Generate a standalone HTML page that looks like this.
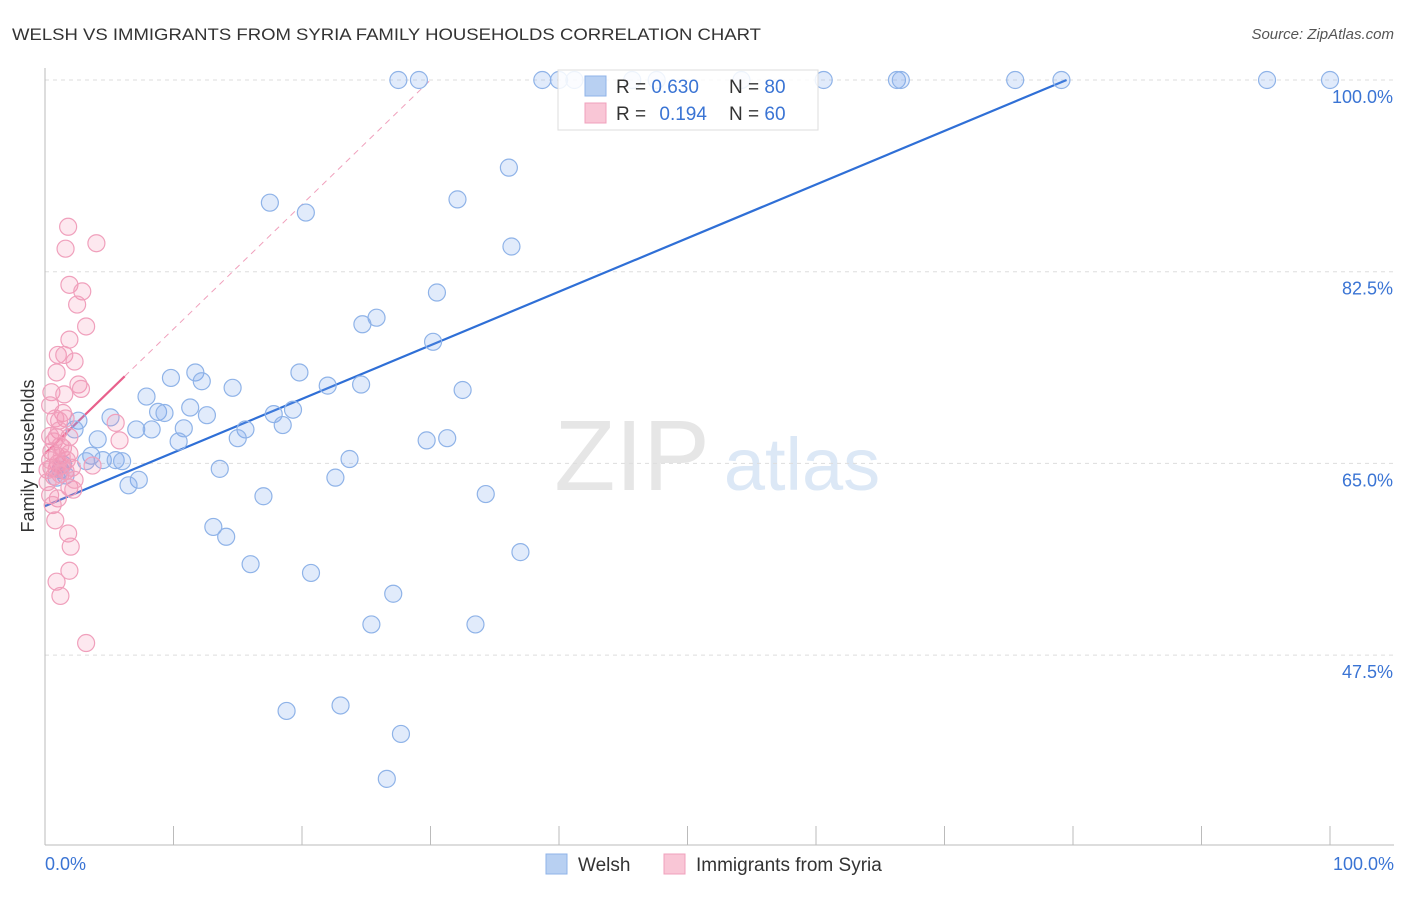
<!DOCTYPE html>
<html><head><meta charset="utf-8"><style>
body{margin:0;background:#fff;font-family:"Liberation Sans",sans-serif;}
svg text{font-family:"Liberation Sans",sans-serif;}
</style></head><body>
<svg id="chart" width="1406" height="892">
<text x="12" y="40" font-size="17" fill="#333" textLength="749" lengthAdjust="spacingAndGlyphs">WELSH VS IMMIGRANTS FROM SYRIA FAMILY HOUSEHOLDS CORRELATION CHART</text>
<text x="1394" y="39" font-size="15" fill="#555" text-anchor="end" font-style="italic">Source: ZipAtlas.com</text>
<text x="34" y="456" font-size="18" fill="#333" text-anchor="middle" transform="rotate(-90 34 456)">Family Households</text>
<g><text x="632" y="490" font-size="100" fill="#e6e6e6" text-anchor="middle" font-family="Liberation Serif,serif">ZIP</text><text x="802" y="490" font-size="74" fill="#dce8f6" text-anchor="middle">atlas</text></g>
<g id="grid"></g><g id="axes"></g><g id="lines"></g><g id="pts"></g>
<g>
<rect x="558" y="70" width="260" height="60" fill="#fff" fill-opacity="0.85" stroke="#ddd"/>
<rect x="585" y="76" width="21" height="20" fill="#b8d0f2" stroke="#8fb3e8"/>
<rect x="585" y="103" width="21" height="20" fill="#f9c6d6" stroke="#f0a0bc"/>
<text x="616" y="93" font-size="19" fill="#333">R = <tspan fill="#3a74d4">0.630</tspan></text>
<text x="729" y="93" font-size="19" fill="#333">N = <tspan fill="#3a74d4">80</tspan></text>
<text x="616" y="120" font-size="19" fill="#333">R = <tspan fill="#3a74d4" dx="8">0.194</tspan></text>
<text x="729" y="120" font-size="19" fill="#333">N = <tspan fill="#3a74d4">60</tspan></text>
</g>
<g>
<rect x="546" y="854" width="21" height="20" fill="#b8d0f2" stroke="#8fb3e8"/>
<text x="578" y="871" font-size="19" fill="#333">Welsh</text>
<rect x="664" y="854" width="21" height="20" fill="#f9c6d6" stroke="#f0a0bc"/>
<text x="696" y="871" font-size="19" fill="#333">Immigrants from Syria</text>
</g>
</svg>
<script>
const yTicks=[100,82.5,65,47.5];
const yTickLabels=["100.0%","82.5%","65.0%","47.5%"];
const xEndLabels=["0.0%","100.0%"];
const welshX=[27.5,29.1,38.7,40.0,41.2,45.7,47.6,54.2,60.6,66.3,66.6,75.5,79.1,95.1,100,36.1,17.5,20.3,32.1,36.3,30.5,25.8,24.7,30.2,19.8,11.7,9.8,12.2,14.6,22.0,24.6,32.5,7.9,11.3,8.8,9.3,19.3,17.8,12.6,5.1,2.6,2.3,7.1,8.3,15.6,18.5,10.8,15.0,4.1,10.4,29.7,31.3,3.6,3.2,4.5,5.5,6.0,23.7,13.6,1.2,0.9,7.3,6.5,22.6,17.0,34.3,13.1,14.1,37.0,16.0,20.7,27.1,25.4,33.5,23.0,18.8,27.7,26.6,1.4,1.6];
const welshY=[100,100,100,100,100,100,100,100,100,100,100,100,100,100,100,92.0,88.8,87.9,89.1,84.8,80.6,78.3,77.7,76.1,73.3,73.3,72.8,72.5,71.9,72.1,72.2,71.7,71.1,70.1,69.7,69.6,69.9,69.5,69.4,69.2,68.9,68.1,68.1,68.1,68.1,68.5,68.2,67.3,67.2,67.0,67.1,67.3,65.7,65.2,65.3,65.3,65.2,65.4,64.5,64.4,63.7,63.5,63.0,63.7,62.0,62.2,59.2,58.3,56.9,55.8,55.0,53.1,50.3,50.3,42.9,42.4,40.3,36.2,64.9,63.9];
const syriaX=[1.8,4.0,1.6,1.9,2.9,2.5,3.2,1.9,1.0,1.5,2.3,0.9,2.6,2.8,0.5,1.5,0.4,1.4,1.6,0.8,1.1,5.5,1.1,0.4,1.9,5.8,0.7,1.4,0.5,0.9,1.9,1.7,1.0,1.3,0.5,1.6,3.7,2.1,0.9,0.7,1.2,1.9,2.2,0.4,1.0,0.6,0.8,1.8,2.0,1.9,0.9,1.2,3.2,1.2,0.4,0.2,0.2,2.3,1.3,0.9];
const syriaY=[86.6,85.1,84.6,81.3,80.7,79.5,77.5,76.3,74.9,74.9,74.3,73.3,72.2,71.8,71.5,71.3,70.3,69.6,69.1,69.1,68.9,68.7,68.0,67.5,67.4,67.1,67.0,66.4,66.1,65.7,65.9,65.3,65.0,64.8,64.6,64.3,64.8,64.6,64.5,63.8,64.0,62.8,62.6,62.1,61.8,61.2,59.8,58.6,57.4,55.2,54.2,52.9,48.6,66.6,65.3,64.4,63.3,63.5,65.6,67.4];
const welshFit=[0,61.1,79.5,100];
const syriaFit=[0,65.9,6.2,30,100];
const NS="http://www.w3.org/2000/svg";
const X=v=>45+v*12.85, Y=v=>80+(100-v)*10.954;
function mk(t,a,p){const e=document.createElementNS(NS,t);for(const k in a)e.setAttribute(k,a[k]);document.getElementById(p).appendChild(e);return e;}
yTicks.forEach((t,i)=>{
 const g=mk('line',{x1:45,x2:1394,y1:Y(t),y2:Y(t),stroke:'#ddd','stroke-dasharray':'4 4'},'grid');
 
 
 const l=mk('text',{x:1393,y:Y(t)+23,'font-size':18,fill:'#3a74d4','text-anchor':'end'},'axes');l.textContent=yTickLabels[i];
 
 
});
const ax=mk('line',{x1:45,x2:45,y1:68,y2:845,stroke:'#bbb'},'axes');


const bx=mk('line',{x1:45,x2:1394,y1:845,y2:845,stroke:'#bbb'},'axes');


for(let i=0;i<=10;i++){const t=mk('line',{x1:X(i*10),x2:X(i*10),y1:826,y2:845,stroke:'#bbb'},'axes');
 
 }
[[0,'start',45],[100,'end',1394]].forEach((d,i)=>{const t=mk('text',{x:d[2],y:870,'font-size':18,fill:'#3a74d4','text-anchor':d[1]},'axes');t.textContent=xEndLabels[i];
 
 });
const bl=mk('line',{x1:X(welshFit[0]),y1:Y(welshFit[1]),x2:X(welshFit[2]),y2:Y(welshFit[3]),stroke:'#2f6fd6','stroke-width':2.2},'lines');


const sl=(syriaFit[4]-syriaFit[1])/syriaFit[3];
const pd=mk('line',{x1:X(syriaFit[2]),y1:Y(syriaFit[1]+sl*syriaFit[2]),x2:X(syriaFit[3]),y2:Y(syriaFit[4]),stroke:'#f0a0bc','stroke-dasharray':'6 5','stroke-width':1},'lines');


const pl=mk('line',{x1:X(0),y1:Y(syriaFit[1]),x2:X(syriaFit[2]),y2:Y(syriaFit[1]+sl*syriaFit[2]),stroke:'#e8608c','stroke-width':2.2},'lines');


welshX.forEach((v,i)=>{const c=mk('circle',{cx:X(v),cy:Y(welshY[i]),r:8.5,fill:'rgba(120,165,235,0.22)',stroke:'#8fb3e8','stroke-width':1.2},'pts');
 
 });
syriaX.forEach((v,i)=>{const c=mk('circle',{cx:X(v),cy:Y(syriaY[i]),r:8.5,fill:'rgba(245,140,175,0.2)',stroke:'#f0a0bc','stroke-width':1.2},'pts');
 
 });
</script>
</body></html>
